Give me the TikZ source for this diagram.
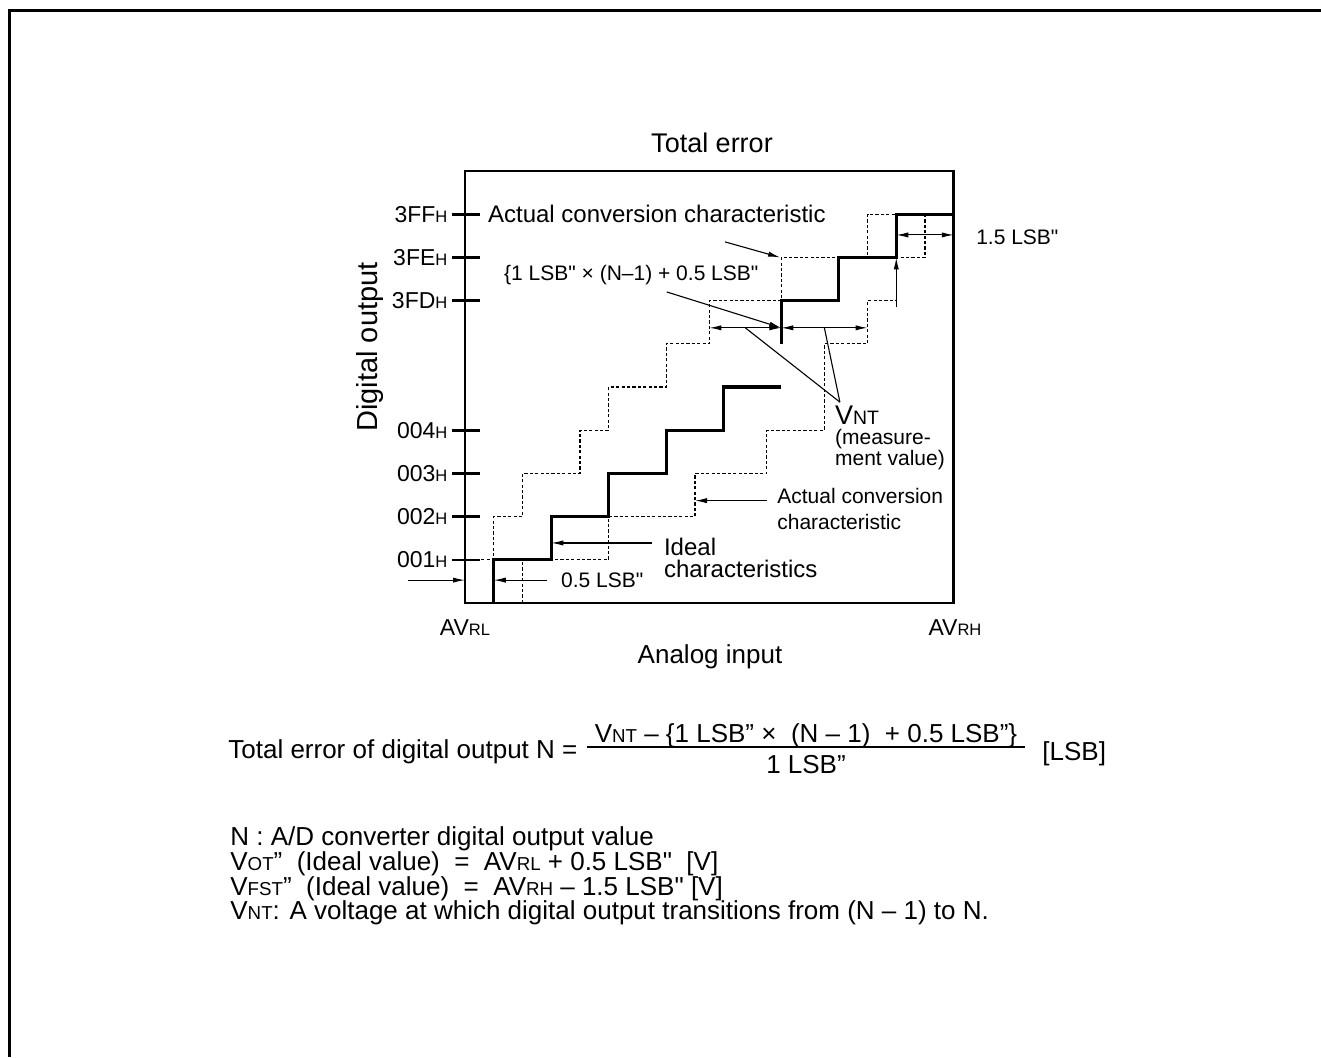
\documentclass[tikz,border=0pt]{standalone}
\usepackage{fontspec}
\setmainfont{Liberation Sans}
\newfontfamily\plainsans{Liberation Sans}
\usepackage{graphicx}
\usetikzlibrary{arrows.meta,positioning}
\newcommand{\low}[1]{\scalebox{0.72}{#1}}
\newcommand{\dq}{{\plainsans\symbol{34}}}

\begin{document}
\begin{tikzpicture}[
  x=0.5pt, y=-0.5pt,
  every node/.style={inner sep=1pt},
  bigtxt/.style={font=\fontsize{13}{15}\selectfont},
  deftxt/.style={font=\fontsize{13}{15}\selectfont, anchor=base west},
  hexlbl/.style={font=\fontsize{11.5}{13}\selectfont, anchor=east, inner sep=2pt},
  note/.style={font=\fontsize{10.5}{12}\selectfont, align=left},
  frameln/.style={line width=1.3pt},
  ideal/.style={line width=1.6pt},
  actual/.style={line width=0.6pt, dash pattern=on 1.6pt off 1.1pt},
  arr/.style={-{Latex[length=6pt,width=2.6pt]}, line width=0.55pt},
  dim/.style={{Latex[length=6pt,width=2.6pt]}-{Latex[length=6pt,width=2.6pt]}, line width=0.55pt},
  lead/.style={line width=0.55pt}
]
\useasboundingbox (0,0) rectangle (1321,1057);
\draw[line width=1.5pt] (9,1057) -- (9,10) -- (1321,10);

\node[font=\fontsize{13.5}{15}\selectfont] (title) at (712,143) {Total error};
\node[font=\fontsize{14.5}{16}\selectfont, rotate=90] (yaxis) at (370,347) {Digital output};
\node[font=\fontsize{11.5}{13}\selectfont] (avrl) at (465,628) {AV\low{RL}};
\node[font=\fontsize{11.5}{13}\selectfont] (avrh) at (955,628) {AV\low{RH}};
\node[bigtxt] (xaxis) at (710,657) {Analog input};

\begin{scope}[shift={(465,603)}, x=28.75pt, y=21.6pt]
  \draw[frameln] (0,0) rectangle (8.5,10);
  \foreach \yy/\code in {1/001,2/002,3/003,4/004,7/3FD,8/3FE,9/3FF} {
    \draw[frameln] (-0.23,\yy) -- (0.26,\yy);
    \node[hexlbl] (h\code) at (-0.23,\yy) {\code\low{H}};
  }
  % ideal steps
  \draw[ideal] (0.5,0) -- (0.5,1) -- (1.5,1) -- (1.5,2) -- (2.5,2) -- (2.5,3)
    -- (3.5,3) -- (3.5,4) -- (4.5,4) -- (4.5,5) -- (5.5,5);
  \draw[ideal] (5.5,6) -- (5.5,7) -- (6.5,7) -- (6.5,8) -- (7.5,8) -- (7.5,9) -- (8.5,9);
  % actual steps
  \draw[actual] (0,1) -- (0.5,1) -- (0.5,2) -- (1,2) -- (1,3) -- (2,3) -- (2,4)
    -- (2.5,4) -- (2.5,5) -- (3.5,5) -- (3.5,6) -- (4.25,6) -- (4.25,7) -- (5.5,7)
    -- (5.5,8) -- (7,8) -- (7,9) -- (7.5,9);
  \draw[actual] (1,0) -- (1,1) -- (2.5,1) -- (2.5,2) -- (4,2) -- (4,3) -- (5.25,3)
    -- (5.25,4) -- (6.25,4) -- (6.25,6) -- (7,6) -- (7,7) -- (7.5,7) -- (7.5,8)
    -- (8,8) -- (8,9) -- (8.5,9);

  \coordinate (dl) at (4.25,6.37);
  \coordinate (dc) at (5.5,6.37);
  \coordinate (dr) at (7,6.37);
  \draw[dim] (dl) -- (dc) coordinate[midway] (m1);
  \draw[dim] (dc) -- (dr) coordinate[midway] (m2);

  \node[font=\fontsize{12}{13}\selectfont, anchor=west] (actTop) at (0.36,9) {Actual conversion characteristic};
  \coordinate (actTail) at (4.52,8.36);
  \coordinate (actHead) at (5.48,8);
  \draw[arr] (actTail) -- (actHead);

  \node[note, anchor=west] (formLbl) at (0.64,7.6) {\{1 LSB\dq\ × (N–1) + 0.5 LSB\dq};
  \coordinate (formTail) at (3.51,7.2);
  \draw[arr] (formTail) -- (dc);

  \coordinate (vtip) at (6.52,4.65);
  \draw[lead] (vtip) -- (m1);
  \draw[lead] (vtip) -- (m2);
  \node[font=\fontsize{13.5}{14}\selectfont, anchor=north west, inner sep=0pt] (vnt) at (6.43,4.58) {V\low{NT}};
  \node[note, anchor=north west, inner sep=0pt, font=\fontsize{10.5}{7.6}\selectfont] (meas) at ([yshift=-2pt]vnt.south west) {(measure-\\ment value)};

  \coordinate (fsL) at (7.5,8.52);
  \coordinate (fsR) at (8.5,8.52);
  \draw[dim] (fsL) -- (fsR);
  \node[note, anchor=west] (fsLbl) at (8.85,8.47) {1.5 LSB\dq};
  \coordinate (upTail) at (7.5,6.85);
  \coordinate (upHead) at (7.5,8);
  \draw[arr] (upTail) -- (upHead);

  \node[note, anchor=north west, font=\fontsize{10.5}{13}\selectfont] (actLow) at (5.39,2.72) {Actual conversion\\characteristic};
  \coordinate (alTail) at (5.25,2.37);
  \coordinate (alHead) at (4,2.37);
  \draw[arr] (alTail) -- (alHead);

  \node[note, anchor=north west, font=\fontsize{12}{11}\selectfont] (idealLbl) at (3.42,1.55) {Ideal\\characteristics};
  \coordinate (idTail) at (3.25,1.39);
  \coordinate (idHead) at (1.5,1.39);
  \draw[arr] (idTail) -- (idHead);

  \node[note, anchor=west] (zsLbl) at (1.63,0.53) {0.5 LSB\dq};
  \coordinate (zsTail) at (1.43,0.53);
  \coordinate (zsHead) at (0.5,0.53);
  \draw[arr] (zsTail) -- (zsHead);
  \coordinate (zoTail) at (-1,0.53);
  \coordinate (zoHead) at (0,0.53);
  \draw[arr] (zoTail) -- (zoHead);
\end{scope}

\node[bigtxt, anchor=base west] (lhs) at (226,758) {Total error of digital output N =};
\node[bigtxt, anchor=base] (num) at (806,742) {V\low{NT} – \{1 LSB” ×~ (N – 1)~ + 0.5 LSB”\}};
\node[bigtxt, anchor=base] (den) at (806,773) {1 LSB”};
\draw[line width=0.9pt] (587,747) -- (1025,747);
\node[bigtxt, anchor=base west] (unit) at (1040,760) {[LSB]};

\node[deftxt] (defN) at (228,845) {N : A/D converter digital output value};
\node[deftxt] (defOT) at (228,870) {V\low{OT}”~ (Ideal value) ~=~ AV\low{RL} + 0.5 LSB\dq~ [V]};
\node[deftxt] (defFST) at (228,895) {V\low{FST}”~ (Ideal value) ~=~ AV\low{RH} – 1.5 LSB\dq\ [V]};
\node[deftxt] (defNT) at (228,919) {V\low{NT}: A voltage at which digital output transitions from (N – 1) to N.};
\end{tikzpicture}
\end{document}
